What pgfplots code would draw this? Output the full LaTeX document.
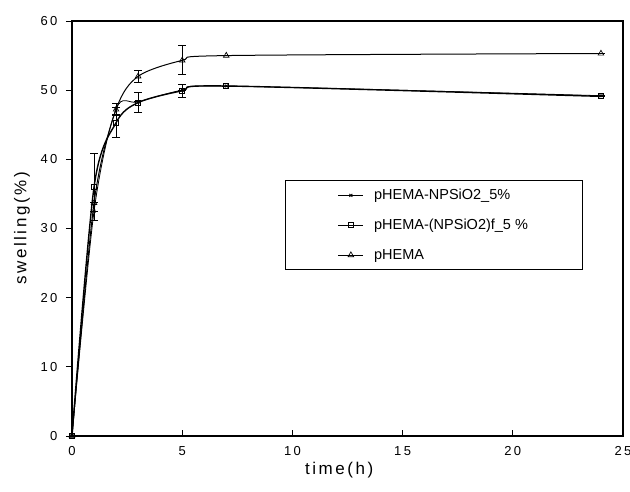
\documentclass[border=0pt]{standalone}
\usepackage{pgfplots}
\pgfplotsset{compat=1.18}
\usepackage{fontspec}
\setmainfont{Liberation Sans}
\newfontfamily\spaced{Liberation Sans}[LetterSpace=15]
\newfontfamily\tickfont{Liberation Sans}[LetterSpace=18]

\begin{document}
\begin{tikzpicture}
\useasboundingbox (-72bp,-56bp) rectangle (558bp,436bp);
\begin{axis}[
    at={(0,0)}, anchor=south west,
    scale only axis,
    width=551bp, height=415bp,
    xmin=0, xmax=25,
    ymin=0, ymax=60,
    xtick={0,5,...,25},
    ytick={0,10,...,60},
    xtick pos=bottom, ytick pos=left,
    xtick align=inside, ytick align=outside,
    major tick length=6bp,
    tick style={black, line width=0.9bp},
    axis line style={line width=1.1bp},
    /pgf/number format/assume math mode=true,
    tick label style={font=\fontsize{13bp}{13bp}\tickfont},
    xticklabel style={yshift=-7bp},
    yticklabel style={xshift=-5bp},
    xlabel={time(h)},
    ylabel={swelling(\%)},
    label style={font=\fontsize{17bp}{17bp}\spaced},
    xlabel style={at={(axis description cs:0.485,-0.082)}, anchor=center},
    ylabel style={at={(axis description cs:-0.091,0.5)}, anchor=center},
    clip=false,
    legend cell align=left,
    legend style={at={(0.387,0.617)}, anchor=north west, draw=black,
        line width=0.9bp, inner xsep=52bp, inner ysep=7bp,
        row sep=14bp,
        /tikz/every odd column/.append style={column sep=8bp},
        font=\fontsize{14.5bp}{15bp}\selectfont},
    legend image code/.code={
        \draw[mark repeat=2, mark phase=2, #1]
            plot coordinates {(0bp,0bp) (12.5bp,0bp) (25bp,0bp)};
    },
    error bars/y dir=both,
    error bars/y explicit,
    error bars/error mark options={rotate=90, mark size=4bp, line width=1bp},
    error bars/error bar style={line width=1bp},
]
% pHEMA-NPSiO2_5%
\addplot[black, line width=0.8bp, smooth, tension=0.5,
    mark=x, mark size=2bp, mark options={solid}]
coordinates {
    (0,0) +- (0,0)
    (1,32.5) +- (0,0)
    (2,47.3) +- (0,0.8)
    (3,48.3) +- (0,0)
    (5,50.0) +- (0,0)
    (7,50.6) +- (0,0)
    (24,49.2) +- (0,0)
};
\addlegendentry{pHEMA-NPSiO2\_5\%}
% pHEMA-(NPSiO2)f_5%
\addplot[black, line width=1.4bp, smooth, tension=0.5,
    mark=square, mark size=2.6bp, mark options={fill=white, line width=1bp}]
coordinates {
    (0,0) +- (0,0)
    (1,36.0) +- (0,4.8)
    (2,45.3) +- (0,2.2)
    (3,48.2) +- (0,1.5)
    (5,49.9) +- (0,0.9)
    (7,50.6) +- (0,0)
    (24,49.1) +- (0,0)
};
\addlegendentry{pHEMA-(NPSiO2)f\_5 \%}
% pHEMA
\addplot[black, line width=1bp, smooth, tension=0.5,
    mark=triangle, mark size=3.2bp, mark options={fill=white, line width=0.7bp}]
coordinates {
    (0,0) +- (0,0)
    (1,33.7) +- (0,0)
    (2,47.2) +- (0,0.8)
    (3,52.0) +- (0,0.9)
    (5,54.3) +- (0,2.1)
    (7,55.0) +- (0,0)
    (24,55.3) +- (0,0)
};
\addlegendentry{pHEMA}
\end{axis}
\end{tikzpicture}
\end{document}
